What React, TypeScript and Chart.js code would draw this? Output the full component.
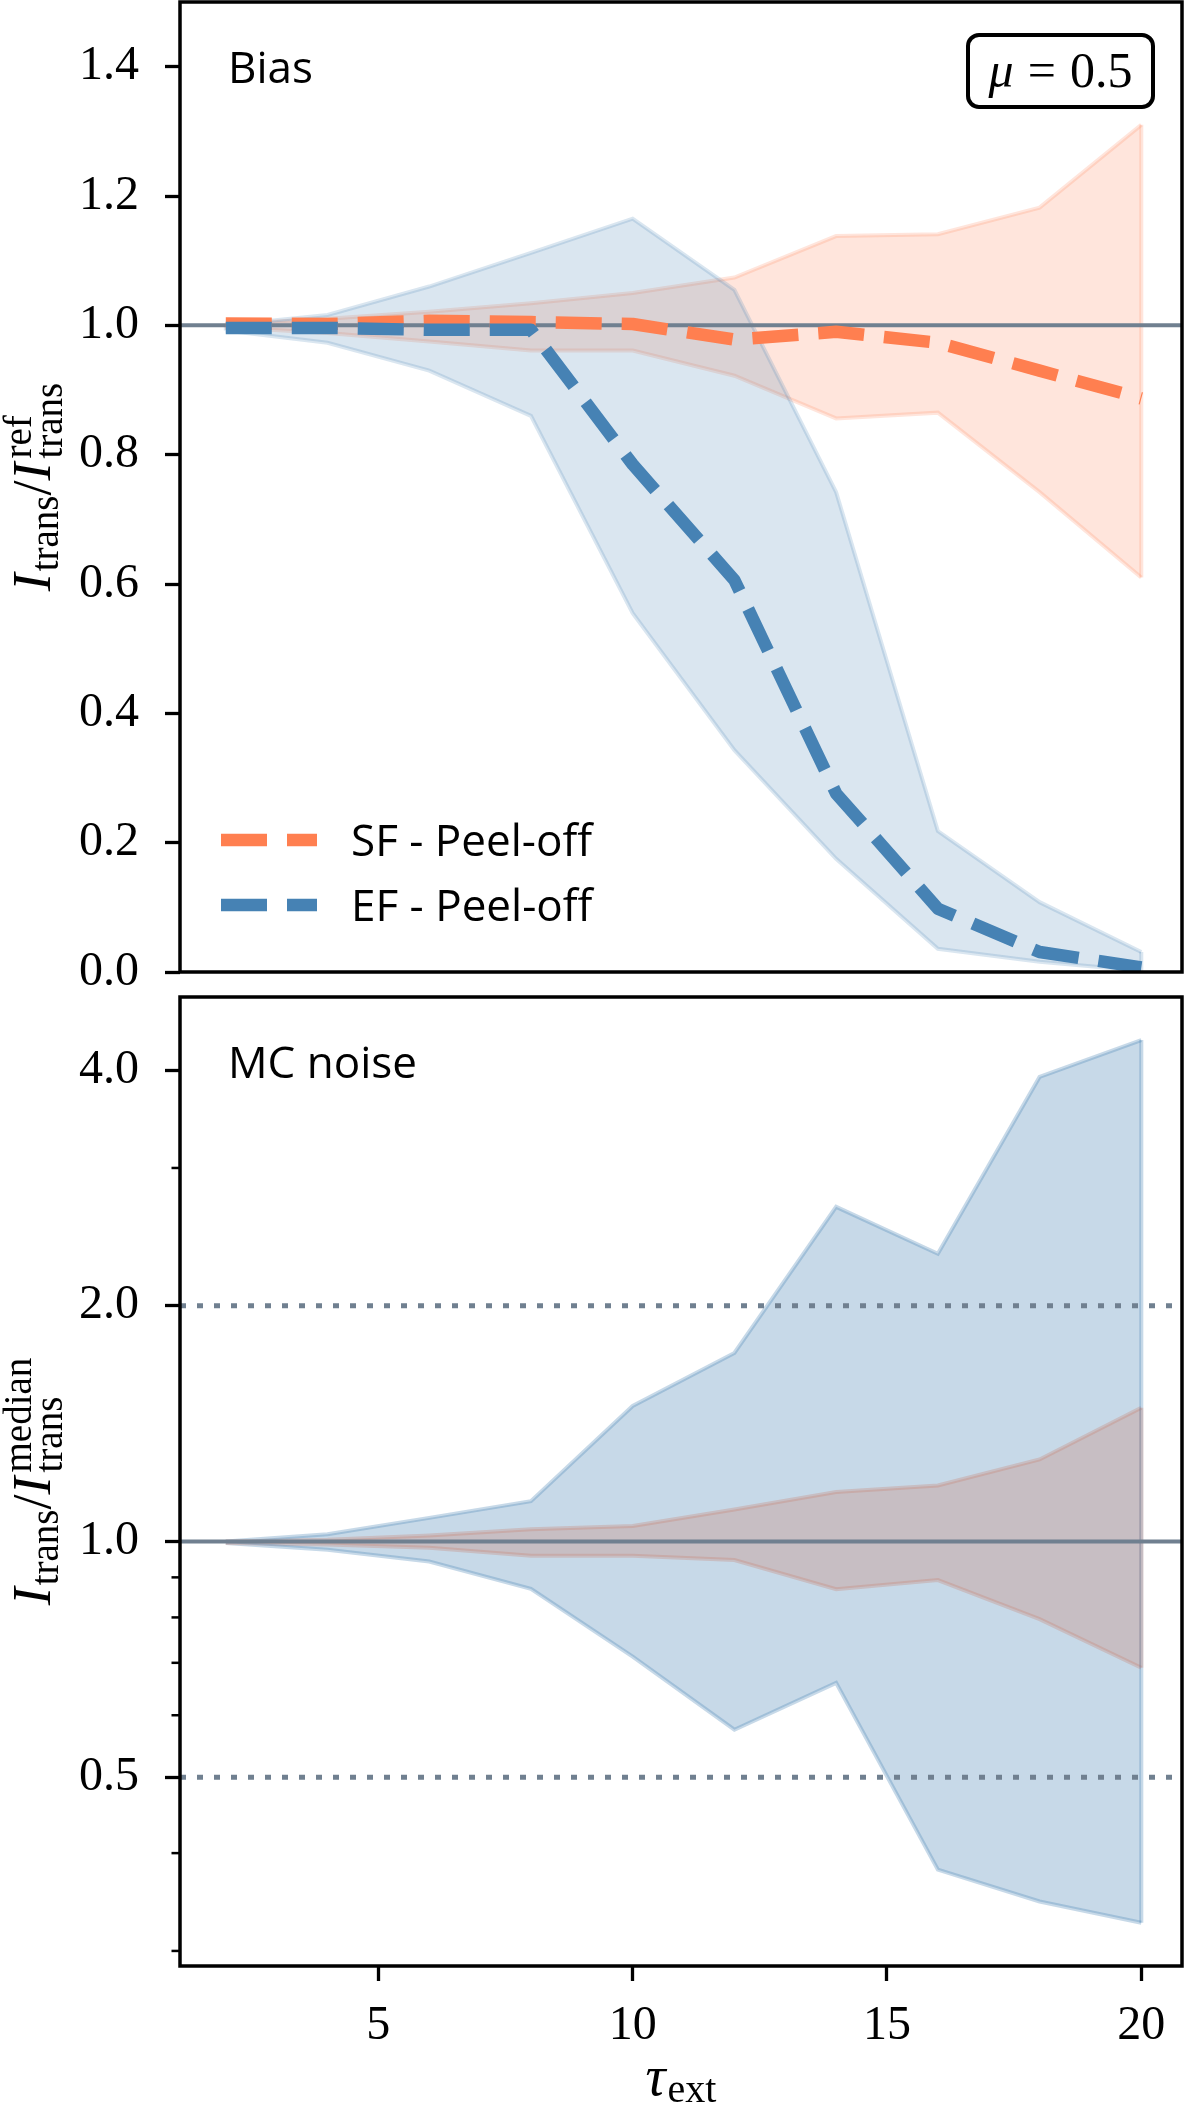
import { useEffect, useRef } from 'react';
import { Chart, registerables } from 'chart.js';

Chart.register(...registerables);

// optical depths of the runs
const TAU = [2, 4, 6, 8, 10, 12, 14, 16, 18, 20];
const TAU_TICKS = [5, 10, 15, 20];

// top panel (bias): I_trans / I_trans^ref
const SF_BIAS_MED = [1.003, 1.002, 1.007, 1.005, 1.002, 0.978, 0.99, 0.973, 0.93, 0.887];
const SF_BIAS_HI = [1.002, 1.01, 1.021, 1.034, 1.05, 1.074, 1.138, 1.141, 1.182, 1.31];
const SF_BIAS_LO = [0.997, 0.988, 0.975, 0.961, 0.961, 0.922, 0.856, 0.865, 0.742, 0.61];
const EF_BIAS_MED = [0.996, 0.996, 0.993, 0.993, 0.785, 0.606, 0.276, 0.098, 0.031, 0.007];
const EF_BIAS_HI = [1.0, 1.016, 1.06, 1.112, 1.165, 1.055, 0.742, 0.218, 0.108, 0.031];
const EF_BIAS_LO = [0.992, 0.973, 0.93, 0.86, 0.555, 0.343, 0.175, 0.036, 0.016, 0.002];
const BIAS_TICKS = [0, 0.2, 0.4, 0.6, 0.8, 1.0, 1.2, 1.4];
const BIAS_REF = [1];

// bottom panel (MC noise): I_trans / I_trans^median
const SF_NOISE_HI = [1.0, 1.005, 1.018, 1.037, 1.047, 1.099, 1.157, 1.179, 1.273, 1.482];
const SF_NOISE_LO = [0.996, 0.991, 0.982, 0.959, 0.959, 0.947, 0.869, 0.893, 0.796, 0.69];
const EF_NOISE_HI = [1.0, 1.022, 1.072, 1.126, 1.49, 1.741, 2.676, 2.331, 3.921, 4.37];
const EF_NOISE_LO = [0.996, 0.976, 0.943, 0.87, 0.713, 0.575, 0.66, 0.381, 0.347, 0.326];
const NOISE_TICKS = [0.5, 1, 2, 4];
const NOISE_MINOR = [0.3, 0.4, 0.6, 0.7, 0.8, 0.9, 3];
const NOISE_REF = [1];
const NOISE_DOTTED = [0.5, 2];

const LEGEND = ['SF - Peel-off', 'EF - Peel-off'];

const CORAL = '255,127,80';
const STEEL = '70,130,180';
const SLATE = '#708090';
const SERIF = '"Liberation Serif", "DejaVu Serif", serif';
const SANS = '"Open Sans", "DejaVu Sans", sans-serif';

const pts = (ys: number[]) => ys.map((y, i) => ({ x: TAU[i], y }));

// upper curve fills down to the next dataset (the lower curve)
function band(hi: number[], lo: number[], rgb: string, alpha: number, order: number, upperIndex: number) {
  const c = `rgba(${rgb},${alpha})`;
  return [
    { data: pts(hi), borderColor: c, backgroundColor: c, borderWidth: 4, fill: '+1', pointRadius: 0, order, clip: 0 },
    { data: pts(lo), borderColor: c, borderWidth: 4, fill: false, pointRadius: 0, order: order - 1, clip: 0, edgeOf: upperIndex },
  ];
}

function median(ys: number[], rgb: string, order: number) {
  return {
    data: pts(ys), borderColor: `rgb(${rgb})`, borderWidth: 12.5, borderDash: [46, 20],
    borderJoinStyle: 'round', fill: false, pointRadius: 0, order, clip: 0,
  };
}

function drawRefs(chart: any, solid: number[], dotted: number[]) {
  const { ctx, chartArea: a, scales } = chart;
  ctx.save();
  ctx.beginPath();
  ctx.rect(a.left, a.top, a.width, a.height);
  ctx.clip();
  ctx.strokeStyle = SLATE;
  ctx.lineCap = 'butt';
  solid.forEach((v) => {
    const y = scales.y.getPixelForValue(v);
    ctx.lineWidth = 4;
    ctx.setLineDash([]);
    ctx.beginPath(); ctx.moveTo(a.left, y); ctx.lineTo(a.right, y); ctx.stroke();
  });
  dotted.forEach((v) => {
    const y = scales.y.getPixelForValue(v);
    ctx.lineWidth = 5;
    ctx.setLineDash([6, 11]);
    ctx.beginPath(); ctx.moveTo(a.left, y); ctx.lineTo(a.right, y); ctx.stroke();
  });
  ctx.restore();
}

// vertical closing edges of a fill_between polygon
function drawBandEnds(chart: any, upper: number, lower: number, color: string) {
  const hi = chart.getDatasetMeta(upper).data;
  const lo = chart.getDatasetMeta(lower).data;
  const { ctx } = chart;
  ctx.save();
  ctx.strokeStyle = color;
  ctx.lineWidth = 4;
  [0, hi.length - 1].forEach((k) => {
    ctx.beginPath(); ctx.moveTo(hi[k].x, hi[k].y); ctx.lineTo(lo[k].x, lo[k].y); ctx.stroke();
  });
  ctx.restore();
}

function drawRatioLabel(ctx: CanvasRenderingContext2D, x: number, cy: number, sup: string) {
  const big = 54, small = 39;
  const fI = `italic ${big}px ${SERIF}`, fBig = `${big}px ${SERIF}`, fSmall = `${small}px ${SERIF}`;
  ctx.save();
  ctx.font = fI; const wI = ctx.measureText('I').width;
  ctx.font = fSmall; const wTr = ctx.measureText('trans').width; const wSup = ctx.measureText(sup).width;
  ctx.font = fBig; const wSl = ctx.measureText('/').width;
  const total = wI + 2 + wTr + wSl + wI + 4 + Math.max(wTr, wSup);
  ctx.translate(x, cy);
  ctx.rotate(-Math.PI / 2);
  ctx.fillStyle = '#000';
  ctx.textAlign = 'left';
  ctx.textBaseline = 'alphabetic';
  let cx = -total / 2;
  ctx.font = fI; ctx.fillText('I', cx, 0); cx += wI + 2;
  ctx.font = fSmall; ctx.fillText('trans', cx, 8); cx += wTr;
  ctx.font = fBig; ctx.fillText('/', cx, 0); cx += wSl;
  ctx.font = fI; ctx.fillText('I', cx, 0); cx += wI + 4;
  ctx.font = fSmall; ctx.fillText(sup, cx, -19); ctx.fillText('trans', cx, 12);
  ctx.restore();
}

function drawFrame(chart: any) {
  const { ctx, chartArea: a } = chart;
  ctx.save();
  ctx.strokeStyle = '#000';
  ctx.lineWidth = 3.5;
  ctx.setLineDash([]);
  ctx.strokeRect(a.left, a.top, a.right - a.left, a.bottom - a.top);
  ctx.restore();
}

function drawTag(chart: any, text: string) {
  const { ctx, chartArea: a } = chart;
  ctx.save();
  ctx.fillStyle = '#000';
  ctx.font = `44px ${SANS}`;
  ctx.textAlign = 'left';
  ctx.textBaseline = 'alphabetic';
  ctx.fillText(text, a.left + 48, a.top + 81);
  ctx.restore();
}

// keep the plot box where it is: no extra room for half tick labels
const noPad = (s: any) => {
  s.paddingTop = 0;
  s.paddingBottom = 0;
  s.paddingLeft = 0;
  s.paddingRight = 0;
};

const biasDecor = {
  id: 'biasDecor',
  afterDatasetDraw(chart: any, args: any) {
    const ds = chart.data.datasets[args.index];
    if (ds.edgeOf !== undefined) drawBandEnds(chart, ds.edgeOf, args.index, ds.borderColor);
    if (args.index === 3) drawRefs(chart, BIAS_REF, []);
  },
  afterDraw(chart: any) {
    const { ctx, chartArea: a } = chart;
    drawFrame(chart);
    drawTag(chart, 'Bias');

    // mu box, top right
    ctx.save();
    const bw = 185, bh = 72;
    const bx = a.right - 29 - bw, by = a.top + 33;
    ctx.strokeStyle = '#000';
    ctx.lineWidth = 4;
    ctx.beginPath();
    ctx.roundRect(bx, by, bw, bh, 11);
    ctx.stroke();
    ctx.fillStyle = '#000';
    ctx.textBaseline = 'alphabetic';
    ctx.textAlign = 'left';
    ctx.font = `italic 50px ${SERIF}`; const wm = ctx.measureText('μ').width;
    ctx.font = `50px ${SERIF}`; const we = ctx.measureText('=').width; const wv = ctx.measureText('0.5').width;
    const gap = 14;
    let tx = bx + (bw - (wm + gap + we + gap + wv)) / 2;
    const ty = by + 52;
    ctx.font = `italic 50px ${SERIF}`; ctx.fillText('μ', tx, ty); tx += wm + gap;
    ctx.font = `50px ${SERIF}`; ctx.fillText('=', tx, ty); tx += we + gap;
    ctx.fillText('0.5', tx, ty);
    ctx.restore();

    // legend, lower left
    ctx.save();
    const colors = [CORAL, STEEL];
    LEGEND.forEach((t, i) => {
      const y = a.top + 838 + i * 65;
      ctx.strokeStyle = `rgb(${colors[i]})`;
      ctx.lineWidth = 12.5;
      ctx.lineCap = 'butt';
      ctx.setLineDash([46, 20]);
      ctx.beginPath(); ctx.moveTo(a.left + 41, y); ctx.lineTo(a.left + 137, y); ctx.stroke();
      ctx.fillStyle = '#000';
      ctx.font = `44px ${SANS}`;
      ctx.textAlign = 'left';
      ctx.textBaseline = 'alphabetic';
      ctx.fillText(t, a.left + 171, y + 15.5);
    });
    ctx.restore();

    drawRatioLabel(ctx, 50, (a.top + a.bottom) / 2, 'ref');
  },
};

const noiseDecor = {
  id: 'noiseDecor',
  afterDatasetDraw(chart: any, args: any) {
    const ds = chart.data.datasets[args.index];
    if (ds.edgeOf !== undefined) drawBandEnds(chart, ds.edgeOf, args.index, ds.borderColor);
  },
  afterDatasetsDraw(chart: any) {
    drawRefs(chart, NOISE_REF, NOISE_DOTTED);
  },
  afterDraw(chart: any) {
    const { ctx, chartArea: a, scales } = chart;
    drawFrame(chart);
    drawTag(chart, 'MC noise');

    // minor ticks of the log axis
    ctx.save();
    ctx.strokeStyle = '#000';
    ctx.lineWidth = 2.5;
    NOISE_MINOR.forEach((v) => {
      const y = scales.y.getPixelForValue(v);
      ctx.beginPath(); ctx.moveTo(a.left - 8.5, y); ctx.lineTo(a.left, y); ctx.stroke();
    });
    ctx.restore();

    drawRatioLabel(ctx, 50, (a.top + a.bottom) / 2, 'median');

    // tau_ext
    ctx.save();
    ctx.fillStyle = '#000';
    ctx.textBaseline = 'alphabetic';
    ctx.textAlign = 'left';
    ctx.font = `italic 56px ${SERIF}`; const wt = ctx.measureText('τ').width;
    ctx.font = `40px ${SERIF}`; const we = ctx.measureText('ext').width;
    let x = (a.left + a.right) / 2 - (wt + 2 + we) / 2;
    ctx.font = `italic 56px ${SERIF}`; ctx.fillText('τ', x, 1110); x += wt + 2;
    ctx.font = `40px ${SERIF}`; ctx.fillText('ext', x, 1117);
    ctx.restore();
  },
};

const tickStyle = (padding: number) => ({
  font: { family: SERIF, size: 48 },
  color: '#000',
  padding,
  autoSkip: false,
});
const tickGrid = { drawOnChartArea: false, drawTicks: true, tickLength: 15, tickWidth: 3.3, tickColor: '#000' };

export default function App() {
  const topRef = useRef<HTMLCanvasElement | null>(null);
  const botRef = useRef<HTMLCanvasElement | null>(null);

  useEffect(() => {
    const top = new Chart(topRef.current!, {
      type: 'line',
      data: {
        datasets: [
          ...band(SF_BIAS_HI, SF_BIAS_LO, CORAL, 0.2, 6, 0),
          ...band(EF_BIAS_HI, EF_BIAS_LO, STEEL, 0.2, 4, 2),
          median(SF_BIAS_MED, CORAL, 2),
          median(EF_BIAS_MED, STEEL, 1),
        ] as any,
      },
      options: {
        animation: false,
        responsive: false,
        events: [],
        layout: { padding: { top: 2, right: 18, bottom: 28, left: 0 } },
        plugins: { legend: { display: false }, tooltip: { enabled: false } },
        scales: {
          x: { type: 'linear', min: 1.1, max: 20.8, display: false },
          y: {
            type: 'linear', min: 0, max: 1.5,
            afterBuildTicks: (s: any) => { s.ticks = BIAS_TICKS.map((v) => ({ value: v })); },
            afterFit: (s: any) => { s.width = 180; noPad(s); },
            ticks: { ...tickStyle(26), callback: (v: any) => Number(v).toFixed(1) },
            grid: tickGrid,
            border: { display: false },
          },
        },
      } as any,
      plugins: [biasDecor],
    });

    const bot = new Chart(botRef.current!, {
      type: 'line',
      data: {
        datasets: [
          ...band(SF_NOISE_HI, SF_NOISE_LO, CORAL, 0.3, 4, 0),
          ...band(EF_NOISE_HI, EF_NOISE_LO, STEEL, 0.3, 2, 2),
        ] as any,
      },
      options: {
        animation: false,
        responsive: false,
        events: [],
        layout: { padding: { top: 12, right: 18, bottom: 0, left: 0 } },
        plugins: { legend: { display: false }, tooltip: { enabled: false } },
        scales: {
          x: {
            type: 'linear', min: 1.1, max: 20.8,
            afterBuildTicks: (s: any) => { s.ticks = TAU_TICKS.map((v) => ({ value: v })); },
            afterFit: (s: any) => { s.height = 141; noPad(s); },
            ticks: { ...tickStyle(17), maxRotation: 0, callback: (v: any) => String(v) },
            grid: tickGrid,
            border: { display: false },
          },
          y: {
            type: 'logarithmic', min: 0.287, max: 4.96,
            afterBuildTicks: (s: any) => { s.ticks = NOISE_TICKS.map((v) => ({ value: v })); },
            afterFit: (s: any) => { s.width = 180; noPad(s); },
            ticks: { ...tickStyle(26), callback: (v: any) => Number(v).toFixed(1) },
            grid: tickGrid,
            border: { display: false },
          },
        },
      } as any,
      plugins: [noiseDecor],
    });

    return () => {
      top.destroy();
      bot.destroy();
    };
  }, []);

  return (
    <div style={{ position: 'absolute', left: 0, top: 0, width: 1200, height: 2107, background: '#fff' }}>
      <canvas ref={topRef} width={1200} height={1000} style={{ position: 'absolute', left: 0, top: 0, width: 1200, height: 1000 }} />
      <canvas ref={botRef} width={1200} height={1122} style={{ position: 'absolute', left: 0, top: 985, width: 1200, height: 1122 }} />
    </div>
  );
}
